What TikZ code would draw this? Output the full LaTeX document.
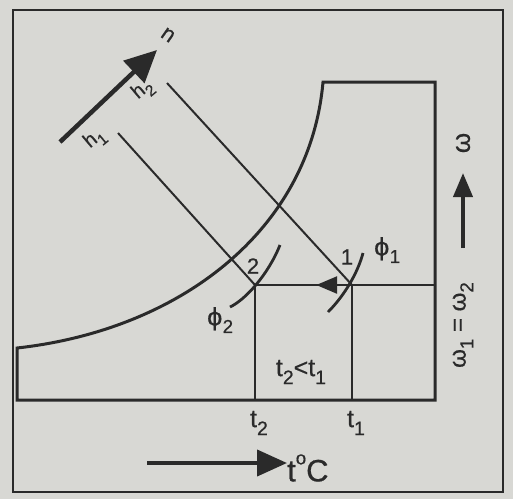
\documentclass[tikz,border=0pt]{standalone}
\usepackage{fontspec}
\usepackage{graphicx}
\setmainfont{Liberation Sans}[FakeBold=0.6]
\newfontfamily\dvs{DejaVu Sans}[FakeBold=0.4]
\usetikzlibrary{arrows.meta,decorations.markings}
\definecolor{bg}{HTML}{D8D8D4}
\definecolor{ink}{HTML}{2A2A2A}
\newcommand\lsub[1]{\raisebox{-0.32em}{\scalebox{0.78}{#1}}}
\newcommand\hsup[1]{\raisebox{0.55em}{\scalebox{0.6}{#1}}}
\begin{document}
\begin{tikzpicture}[x=1pt,y=-1pt,
  chartline/.style={draw=ink,line width=3pt,line join=miter},
  thinline/.style={draw=ink,line width=2.2pt},
  enthline/.style={draw=ink,line width=2pt},
  arcline/.style={draw=ink,line width=2.8pt},
  bigarrow/.style={draw=ink,fill=ink,line width=4.5pt},
  lbl/.style={text=ink,inner sep=0pt,font=\fontsize{22}{26}\selectfont},
  midarrow/.style={decoration={markings,mark=at position #1 with {\arrow{Triangle[length=21pt,width=17pt]}}},postaction={decorate}}
]
\fill[bg] (0,0) rectangle (513,499);
\useasboundingbox (0,0) rectangle (513,499);
% outer frame
\draw[draw=ink,line width=2.5pt] (13,10) rectangle (503,492);
% coordinates
\coordinate (ls) at (17,348);
\coordinate (bl) at (17,400);
\coordinate (br) at (435,400);
\coordinate (tr) at (435,82);
\coordinate (tc) at (323,82);
\coordinate (wr) at (435,285);
\coordinate (p1) at (352,285);
\coordinate (p2) at (255,285);
\coordinate (t1b) at (352,400);
\coordinate (t2b) at (255,400);
\coordinate (h2s) at (167,83);
\coordinate (h1s) at (118,133);
% chart outline with saturation curve
\draw[chartline] (ls) .. controls (180,330) and (310,230) .. (tc) -- (tr) -- (br) -- (bl) -- cycle;
% constant omega line with arrow
\draw[chartline,line width=2.6pt,midarrow=0.66] (wr) -- (p1) -- (p2);
% vertical temperature lines
\draw[thinline] (p2) -- (t2b);
\draw[thinline] (p1) -- (t1b);
% enthalpy lines
\draw[enthline] (h2s) -- (p1);
\draw[enthline] (h1s) -- (p2);
% relative humidity arcs
\coordinate (f1a) at (328,312);
\coordinate (f1b) at (363,253);
\coordinate (f2a) at (230,307);
\coordinate (f2b) at (280,245);
\draw[arcline] (f1a) .. controls (345,295) and (358,272) .. (f1b);
\draw[arcline] (f2a) .. controls (245,300) and (268,275) .. (f2b);
% direction arrow of enthalpy
\coordinate (na) at (60,142);
\coordinate (nb) at (157,50);
\draw[bigarrow,-{Triangle[length=32pt,width=30pt]}] (na) -- (nb);
% omega axis arrow
\coordinate (wa) at (463,248);
\coordinate (wb) at (463,173);
\draw[bigarrow,line width=4pt,-{Triangle[length=24pt,width=19pt]}] (wa) -- (wb);
% temperature axis arrow
\coordinate (ta) at (147,463);
\coordinate (tb) at (287,463);
\draw[bigarrow,line width=4pt,-{Triangle[length=30pt,width=26pt]}] (ta) -- (tb);
% labels
\node[lbl,rotate=-35] (nlab) at (168,35) {n};
\node[lbl,rotate=40,font=\fontsize{20}{24}\selectfont] (h2lab) at (143,90) {h\lsub{2}};
\node[lbl,rotate=40,font=\fontsize{20}{24}\selectfont] (h1lab) at (95,139) {h\lsub{1}};
\node[lbl] (one) at (347,257) {1};
\node[lbl] (two) at (253,266) {2};
\node[lbl,font=\fontsize{24}{28}\selectfont] (phi1) at (387,250) {{\dvs ϕ}\lsub{1}};
\node[lbl,font=\fontsize{24}{28}\selectfont] (phi2) at (220,320) {{\dvs ϕ}\lsub{2}};
\node[lbl,font=\fontsize{25}{28}\selectfont] (cmp) at (301,372) {t\lsub{2}<t\lsub{1}};
\node[lbl,font=\fontsize{25}{28}\selectfont] (t2lab) at (259,423) {t\lsub{2}};
\node[lbl,font=\fontsize{25}{28}\selectfont] (t1lab) at (356,423) {t\lsub{1}};
\node[lbl,font=\fontsize{31}{34}\selectfont,anchor=west] (tclab) at (287,468) {t\hsup{o}C};
\node[lbl,rotate=90,font=\fontsize{26}{30}\selectfont] (wlab) at (463,143) {ω};
\node[lbl,rotate=90,font=\fontsize{24}{28}\selectfont] (weq) at (463,325) {ω\lsub{1} = ω\lsub{2}};
\end{tikzpicture}
\end{document}
